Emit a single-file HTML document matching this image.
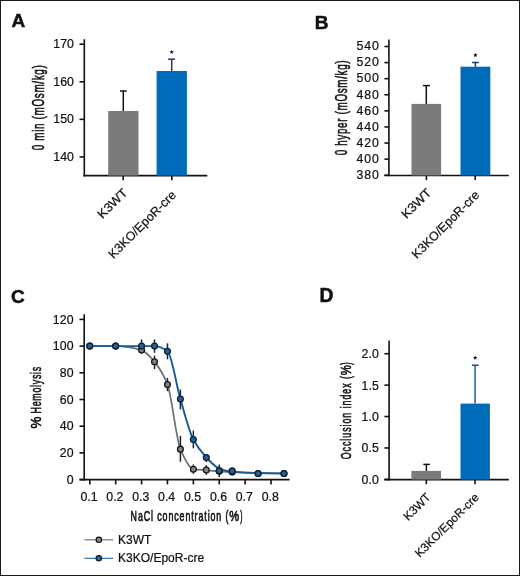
<!DOCTYPE html>
<html><head><meta charset="utf-8"><style>
html,body{margin:0;padding:0;background:#fff;}
svg{display:block;font-family:"Liberation Sans", sans-serif;will-change:transform;}
</style></head><body>
<svg width="520" height="576" viewBox="0 0 520 576">
<rect x="0.5" y="0.5" width="519" height="575" fill="#fff" stroke="#1a1a1a" stroke-width="1"/>
<text x="11.60" y="27.00" font-size="19.0" stroke="#111" stroke-width="0.5" font-weight="bold" fill="#111">A</text>
<line x1="79.50" y1="44.20" x2="84.30" y2="44.20" stroke="#111" stroke-width="1.6" stroke-linecap="butt"/>
<text x="73.90" y="48.35" font-size="12.3" text-anchor="end" stroke="#111" stroke-width="0.22" textLength="20.62" lengthAdjust="spacing" fill="#111">170</text>
<line x1="79.50" y1="81.77" x2="84.30" y2="81.77" stroke="#111" stroke-width="1.6" stroke-linecap="butt"/>
<text x="73.90" y="85.92" font-size="12.3" text-anchor="end" stroke="#111" stroke-width="0.22" textLength="20.62" lengthAdjust="spacing" fill="#111">160</text>
<line x1="79.50" y1="119.34" x2="84.30" y2="119.34" stroke="#111" stroke-width="1.6" stroke-linecap="butt"/>
<text x="73.90" y="123.49" font-size="12.3" text-anchor="end" stroke="#111" stroke-width="0.22" textLength="20.62" lengthAdjust="spacing" fill="#111">150</text>
<line x1="79.50" y1="156.91" x2="84.30" y2="156.91" stroke="#111" stroke-width="1.6" stroke-linecap="butt"/>
<text x="73.90" y="161.06" font-size="12.3" text-anchor="end" stroke="#111" stroke-width="0.22" textLength="20.62" lengthAdjust="spacing" fill="#111">140</text>
<line x1="84.30" y1="39.20" x2="84.30" y2="176.40" stroke="#111" stroke-width="1.6" stroke-linecap="butt"/>
<line x1="83.50" y1="175.60" x2="207.30" y2="175.60" stroke="#111" stroke-width="1.6" stroke-linecap="butt"/>
<line x1="123.20" y1="175.60" x2="123.20" y2="180.20" stroke="#111" stroke-width="1.6" stroke-linecap="butt"/>
<line x1="171.80" y1="175.60" x2="171.80" y2="180.20" stroke="#111" stroke-width="1.6" stroke-linecap="butt"/>
<rect x="108.20" y="111.00" width="30.30" height="64.60" fill="#7b7b7b"/>
<rect x="156.60" y="71.00" width="30.30" height="104.60" fill="#006cb9"/>
<line x1="123.30" y1="111.00" x2="123.30" y2="91.00" stroke="#111" stroke-width="1.5" stroke-linecap="butt"/>
<line x1="120.00" y1="91.00" x2="126.70" y2="91.00" stroke="#111" stroke-width="1.5" stroke-linecap="butt"/>
<line x1="171.70" y1="71.00" x2="171.70" y2="59.20" stroke="#1b3d63" stroke-width="1.5" stroke-linecap="butt"/>
<line x1="168.10" y1="59.20" x2="175.10" y2="59.20" stroke="#1b3d63" stroke-width="1.5" stroke-linecap="butt"/>
<polygon points="171.70,49.70 172.31,51.16 173.89,51.29 172.68,52.32 173.05,53.86 171.70,53.03 170.35,53.86 170.72,52.32 169.51,51.29 171.09,51.16" fill="#111"/>
<text x="0" y="0" font-size="16.0" letter-spacing="1.030" transform="translate(43.60,150.20) rotate(-90) scale(0.62,1)" fill="#111" stroke="#111" stroke-width="0.6">0 min (mOsm/kg)</text>
<text x="0.00" y="0.00" font-size="12.5" text-anchor="end" stroke="#111" stroke-width="0.22" textLength="36.50" lengthAdjust="spacingAndGlyphs" transform="translate(128.30,193.50) rotate(-45)" fill="#111">K3WT</text>
<text x="0.00" y="0.00" font-size="12.5" text-anchor="end" stroke="#111" stroke-width="0.22" transform="translate(176.80,195.80) rotate(-45)" fill="#111">K3KO/EpoR-cre</text>
<text x="314.80" y="29.30" font-size="19.0" stroke="#111" stroke-width="0.5" font-weight="bold" fill="#111">B</text>
<line x1="384.40" y1="46.50" x2="388.90" y2="46.50" stroke="#111" stroke-width="1.6" stroke-linecap="butt"/>
<text x="378.80" y="50.30" font-size="12.3" text-anchor="end" stroke="#111" stroke-width="0.22" textLength="22.42" lengthAdjust="spacing" fill="#111">540</text>
<line x1="384.40" y1="62.59" x2="388.90" y2="62.59" stroke="#111" stroke-width="1.6" stroke-linecap="butt"/>
<text x="378.80" y="66.39" font-size="12.3" text-anchor="end" stroke="#111" stroke-width="0.22" textLength="22.42" lengthAdjust="spacing" fill="#111">520</text>
<line x1="384.40" y1="78.68" x2="388.90" y2="78.68" stroke="#111" stroke-width="1.6" stroke-linecap="butt"/>
<text x="378.80" y="82.48" font-size="12.3" text-anchor="end" stroke="#111" stroke-width="0.22" textLength="22.42" lengthAdjust="spacing" fill="#111">500</text>
<line x1="384.40" y1="94.77" x2="388.90" y2="94.77" stroke="#111" stroke-width="1.6" stroke-linecap="butt"/>
<text x="378.80" y="98.57" font-size="12.3" text-anchor="end" stroke="#111" stroke-width="0.22" textLength="22.42" lengthAdjust="spacing" fill="#111">480</text>
<line x1="384.40" y1="110.86" x2="388.90" y2="110.86" stroke="#111" stroke-width="1.6" stroke-linecap="butt"/>
<text x="378.80" y="114.66" font-size="12.3" text-anchor="end" stroke="#111" stroke-width="0.22" textLength="22.42" lengthAdjust="spacing" fill="#111">460</text>
<line x1="384.40" y1="126.95" x2="388.90" y2="126.95" stroke="#111" stroke-width="1.6" stroke-linecap="butt"/>
<text x="378.80" y="130.75" font-size="12.3" text-anchor="end" stroke="#111" stroke-width="0.22" textLength="22.42" lengthAdjust="spacing" fill="#111">440</text>
<line x1="384.40" y1="143.04" x2="388.90" y2="143.04" stroke="#111" stroke-width="1.6" stroke-linecap="butt"/>
<text x="378.80" y="146.84" font-size="12.3" text-anchor="end" stroke="#111" stroke-width="0.22" textLength="22.42" lengthAdjust="spacing" fill="#111">420</text>
<line x1="384.40" y1="159.13" x2="388.90" y2="159.13" stroke="#111" stroke-width="1.6" stroke-linecap="butt"/>
<text x="378.80" y="162.93" font-size="12.3" text-anchor="end" stroke="#111" stroke-width="0.22" textLength="22.42" lengthAdjust="spacing" fill="#111">400</text>
<line x1="384.40" y1="175.22" x2="388.90" y2="175.22" stroke="#111" stroke-width="1.6" stroke-linecap="butt"/>
<text x="378.80" y="179.02" font-size="12.3" text-anchor="end" stroke="#111" stroke-width="0.22" textLength="22.42" lengthAdjust="spacing" fill="#111">380</text>
<line x1="388.90" y1="39.40" x2="388.90" y2="176.30" stroke="#111" stroke-width="1.6" stroke-linecap="butt"/>
<line x1="384.40" y1="175.50" x2="508.80" y2="175.50" stroke="#111" stroke-width="1.6" stroke-linecap="butt"/>
<line x1="426.40" y1="175.50" x2="426.40" y2="180.10" stroke="#111" stroke-width="1.6" stroke-linecap="butt"/>
<line x1="475.20" y1="175.50" x2="475.20" y2="180.10" stroke="#111" stroke-width="1.6" stroke-linecap="butt"/>
<rect x="411.50" y="103.90" width="29.60" height="71.60" fill="#7b7b7b"/>
<rect x="460.50" y="66.70" width="29.80" height="108.80" fill="#006cb9"/>
<line x1="426.30" y1="103.90" x2="426.30" y2="85.60" stroke="#111" stroke-width="1.5" stroke-linecap="butt"/>
<line x1="422.90" y1="85.60" x2="429.90" y2="85.60" stroke="#111" stroke-width="1.5" stroke-linecap="butt"/>
<line x1="475.40" y1="66.70" x2="475.40" y2="62.50" stroke="#1b3d63" stroke-width="1.5" stroke-linecap="butt"/>
<line x1="472.10" y1="62.50" x2="478.80" y2="62.50" stroke="#1b3d63" stroke-width="1.5" stroke-linecap="butt"/>
<polygon points="475.40,52.90 476.01,54.36 477.59,54.49 476.38,55.52 476.75,57.06 475.40,56.23 474.05,57.06 474.42,55.52 473.21,54.49 474.79,54.36" fill="#111"/>
<text x="0" y="0" font-size="16.0" letter-spacing="1.019" transform="translate(346.70,155.30) rotate(-90) scale(0.62,1)" fill="#111" stroke="#111" stroke-width="0.6">0 hyper (mOsm/kg)</text>
<text x="0.00" y="0.00" font-size="12.5" text-anchor="end" stroke="#111" stroke-width="0.22" textLength="36.50" lengthAdjust="spacingAndGlyphs" transform="translate(432.20,193.50) rotate(-45)" fill="#111">K3WT</text>
<text x="0.00" y="0.00" font-size="12.5" text-anchor="end" stroke="#111" stroke-width="0.22" transform="translate(480.20,195.80) rotate(-45)" fill="#111">K3KO/EpoR-cre</text>
<text x="10.90" y="302.80" font-size="19.0" stroke="#111" stroke-width="0.5" font-weight="bold" fill="#111">C</text>
<line x1="79.50" y1="319.40" x2="84.20" y2="319.40" stroke="#111" stroke-width="1.6" stroke-linecap="butt"/>
<text x="73.65" y="323.55" font-size="12.3" text-anchor="end" stroke="#111" stroke-width="0.22" textLength="20.82" lengthAdjust="spacing" fill="#111">120</text>
<line x1="79.50" y1="346.10" x2="84.20" y2="346.10" stroke="#111" stroke-width="1.6" stroke-linecap="butt"/>
<text x="73.65" y="350.25" font-size="12.3" text-anchor="end" stroke="#111" stroke-width="0.22" textLength="20.82" lengthAdjust="spacing" fill="#111">100</text>
<line x1="79.50" y1="372.80" x2="84.20" y2="372.80" stroke="#111" stroke-width="1.6" stroke-linecap="butt"/>
<text x="73.65" y="376.95" font-size="12.3" text-anchor="end" stroke="#111" stroke-width="0.22" textLength="13.83" lengthAdjust="spacing" fill="#111">80</text>
<line x1="79.50" y1="399.50" x2="84.20" y2="399.50" stroke="#111" stroke-width="1.6" stroke-linecap="butt"/>
<text x="73.65" y="403.65" font-size="12.3" text-anchor="end" stroke="#111" stroke-width="0.22" textLength="13.83" lengthAdjust="spacing" fill="#111">60</text>
<line x1="79.50" y1="426.20" x2="84.20" y2="426.20" stroke="#111" stroke-width="1.6" stroke-linecap="butt"/>
<text x="73.65" y="430.35" font-size="12.3" text-anchor="end" stroke="#111" stroke-width="0.22" textLength="13.83" lengthAdjust="spacing" fill="#111">40</text>
<line x1="79.50" y1="452.90" x2="84.20" y2="452.90" stroke="#111" stroke-width="1.6" stroke-linecap="butt"/>
<text x="73.65" y="457.05" font-size="12.3" text-anchor="end" stroke="#111" stroke-width="0.22" textLength="13.83" lengthAdjust="spacing" fill="#111">20</text>
<line x1="79.50" y1="479.60" x2="84.20" y2="479.60" stroke="#111" stroke-width="1.6" stroke-linecap="butt"/>
<text x="73.65" y="483.75" font-size="12.3" text-anchor="end" stroke="#111" stroke-width="0.22" textLength="6.84" lengthAdjust="spacing" fill="#111">0</text>
<line x1="84.20" y1="314.20" x2="84.20" y2="480.40" stroke="#111" stroke-width="1.6" stroke-linecap="butt"/>
<line x1="79.50" y1="479.60" x2="289.60" y2="479.60" stroke="#111" stroke-width="1.6" stroke-linecap="butt"/>
<line x1="89.80" y1="479.60" x2="89.80" y2="484.40" stroke="#111" stroke-width="1.6" stroke-linecap="butt"/>
<text x="89.00" y="500.60" font-size="12.3" text-anchor="middle" stroke="#111" stroke-width="0.22" fill="#111">0.1</text>
<line x1="115.69" y1="479.60" x2="115.69" y2="484.40" stroke="#111" stroke-width="1.6" stroke-linecap="butt"/>
<text x="114.89" y="500.60" font-size="12.3" text-anchor="middle" stroke="#111" stroke-width="0.22" fill="#111">0.2</text>
<line x1="141.58" y1="479.60" x2="141.58" y2="484.40" stroke="#111" stroke-width="1.6" stroke-linecap="butt"/>
<text x="140.78" y="500.60" font-size="12.3" text-anchor="middle" stroke="#111" stroke-width="0.22" fill="#111">0.3</text>
<line x1="167.47" y1="479.60" x2="167.47" y2="484.40" stroke="#111" stroke-width="1.6" stroke-linecap="butt"/>
<text x="166.67" y="500.60" font-size="12.3" text-anchor="middle" stroke="#111" stroke-width="0.22" fill="#111">0.4</text>
<line x1="193.36" y1="479.60" x2="193.36" y2="484.40" stroke="#111" stroke-width="1.6" stroke-linecap="butt"/>
<text x="192.56" y="500.60" font-size="12.3" text-anchor="middle" stroke="#111" stroke-width="0.22" fill="#111">0.5</text>
<line x1="219.25" y1="479.60" x2="219.25" y2="484.40" stroke="#111" stroke-width="1.6" stroke-linecap="butt"/>
<text x="218.45" y="500.60" font-size="12.3" text-anchor="middle" stroke="#111" stroke-width="0.22" fill="#111">0.6</text>
<line x1="245.14" y1="479.60" x2="245.14" y2="484.40" stroke="#111" stroke-width="1.6" stroke-linecap="butt"/>
<text x="244.34" y="500.60" font-size="12.3" text-anchor="middle" stroke="#111" stroke-width="0.22" fill="#111">0.7</text>
<line x1="271.03" y1="479.60" x2="271.03" y2="484.40" stroke="#111" stroke-width="1.6" stroke-linecap="butt"/>
<text x="270.23" y="500.60" font-size="12.3" text-anchor="middle" stroke="#111" stroke-width="0.22" fill="#111">0.8</text>
<text x="0" y="0" font-size="13.8" letter-spacing="1.433" transform="translate(130.60,521.40) scale(0.6400,1)" fill="#111" stroke="#111" stroke-width="0.65">NaCl concentration (</text>
<text x="0" y="0" font-size="13.8" letter-spacing="0.000" transform="translate(229.23,521.40) scale(0.8017,1)" fill="#111" stroke="#111" stroke-width="0.65">%</text>
<text x="0" y="0" font-size="13.8" letter-spacing="0.000" transform="translate(240.29,521.40) scale(0.4785,1)" fill="#111" stroke="#111" stroke-width="0.65">)</text>
<text x="0" y="0" font-size="14.3" letter-spacing="0.000" transform="translate(41.20,428.50) rotate(-90) scale(0.9437720751114769,1)" fill="#111" stroke="#111" stroke-width="0.6">%</text>
<text x="0" y="0" font-size="14.3" letter-spacing="1.151" transform="translate(41.20,413.40) rotate(-90) scale(0.62,1)" fill="#111" stroke="#111" stroke-width="0.6">Hemolysis</text>
<path d="M89.80,346.10 C98.43,346.10 107.06,346.10 115.69,346.10 C124.32,346.10 132.95,347.63 141.58,350.11 C145.89,351.34 150.21,356.69 154.52,361.85 C158.84,367.01 163.16,373.35 167.47,384.55 C171.78,395.75 176.10,438.97 180.41,449.16 C184.73,459.35 189.04,468.51 193.36,469.19 C197.68,469.86 201.99,469.90 206.31,470.25 C210.62,470.61 214.94,471.02 219.25,471.32 C223.56,471.63 227.88,471.91 232.19,472.12 C240.82,472.56 249.45,473.05 258.08,473.19 C266.71,473.33 275.34,473.37 283.97,473.46" fill="none" stroke="#6e6e6e" stroke-width="1.7"/>
<line x1="141.58" y1="346.77" x2="141.58" y2="353.44" stroke="#222" stroke-width="1.5" stroke-linecap="butt"/>
<line x1="154.52" y1="355.71" x2="154.52" y2="369.06" stroke="#222" stroke-width="1.5" stroke-linecap="butt"/>
<line x1="167.47" y1="377.87" x2="167.47" y2="391.22" stroke="#222" stroke-width="1.5" stroke-linecap="butt"/>
<line x1="180.41" y1="435.81" x2="180.41" y2="461.71" stroke="#222" stroke-width="1.5" stroke-linecap="butt"/>
<line x1="193.36" y1="464.51" x2="193.36" y2="473.73" stroke="#222" stroke-width="1.5" stroke-linecap="butt"/>
<line x1="206.31" y1="465.18" x2="206.31" y2="474.79" stroke="#222" stroke-width="1.5" stroke-linecap="butt"/>
<circle cx="89.80" cy="346.10" r="2.9" fill="#858585" stroke="#151515" stroke-width="1.3"/>
<circle cx="115.69" cy="346.10" r="2.9" fill="#858585" stroke="#151515" stroke-width="1.3"/>
<circle cx="141.58" cy="350.11" r="2.9" fill="#858585" stroke="#151515" stroke-width="1.3"/>
<circle cx="154.52" cy="361.85" r="2.9" fill="#858585" stroke="#151515" stroke-width="1.3"/>
<circle cx="167.47" cy="384.55" r="2.9" fill="#858585" stroke="#151515" stroke-width="1.3"/>
<circle cx="180.41" cy="449.16" r="2.9" fill="#858585" stroke="#151515" stroke-width="1.3"/>
<circle cx="193.36" cy="469.19" r="2.9" fill="#858585" stroke="#151515" stroke-width="1.3"/>
<circle cx="206.31" cy="469.99" r="2.9" fill="#858585" stroke="#151515" stroke-width="1.3"/>
<circle cx="219.25" cy="471.32" r="2.9" fill="#858585" stroke="#151515" stroke-width="1.3"/>
<circle cx="232.19" cy="472.12" r="2.9" fill="#858585" stroke="#151515" stroke-width="1.3"/>
<circle cx="258.08" cy="473.46" r="2.9" fill="#858585" stroke="#151515" stroke-width="1.3"/>
<circle cx="283.97" cy="473.46" r="2.9" fill="#858585" stroke="#151515" stroke-width="1.3"/>
<path d="M89.80,346.10 C98.43,346.10 107.06,346.10 115.69,346.10 C124.32,346.10 132.95,346.10 141.58,346.10 C145.89,346.10 150.21,346.10 154.52,346.10 C158.84,346.10 163.16,348.18 167.47,351.31 C171.78,354.44 176.10,384.49 180.41,399.10 C184.73,413.70 189.04,431.28 193.36,439.55 C197.68,447.82 201.99,452.88 206.31,457.44 C210.62,462.00 214.94,466.92 219.25,468.52 C223.56,470.12 227.88,471.17 232.19,471.59 C240.82,472.44 249.45,472.85 258.08,473.06 C266.71,473.27 275.34,473.33 283.97,473.46" fill="none" stroke="#1a5a92" stroke-width="1.9"/>
<line x1="141.58" y1="339.43" x2="141.58" y2="346.10" stroke="#15263a" stroke-width="1.5" stroke-linecap="butt"/>
<line x1="154.52" y1="339.43" x2="154.52" y2="352.78" stroke="#15263a" stroke-width="1.5" stroke-linecap="butt"/>
<line x1="167.47" y1="343.30" x2="167.47" y2="359.32" stroke="#15263a" stroke-width="1.5" stroke-linecap="butt"/>
<line x1="180.41" y1="389.49" x2="180.41" y2="409.38" stroke="#15263a" stroke-width="1.5" stroke-linecap="butt"/>
<line x1="193.36" y1="430.61" x2="193.36" y2="448.36" stroke="#15263a" stroke-width="1.5" stroke-linecap="butt"/>
<line x1="206.31" y1="453.97" x2="206.31" y2="461.98" stroke="#15263a" stroke-width="1.5" stroke-linecap="butt"/>
<line x1="219.25" y1="464.38" x2="219.25" y2="476.93" stroke="#15263a" stroke-width="1.5" stroke-linecap="butt"/>
<circle cx="89.80" cy="346.10" r="2.9" fill="#28618f" stroke="#0b1f36" stroke-width="1.3"/>
<circle cx="115.69" cy="346.10" r="2.9" fill="#28618f" stroke="#0b1f36" stroke-width="1.3"/>
<circle cx="141.58" cy="346.10" r="2.9" fill="#28618f" stroke="#0b1f36" stroke-width="1.3"/>
<circle cx="154.52" cy="346.10" r="2.9" fill="#28618f" stroke="#0b1f36" stroke-width="1.3"/>
<circle cx="167.47" cy="351.31" r="2.9" fill="#28618f" stroke="#0b1f36" stroke-width="1.3"/>
<circle cx="180.41" cy="399.10" r="2.9" fill="#28618f" stroke="#0b1f36" stroke-width="1.3"/>
<circle cx="193.36" cy="439.55" r="2.9" fill="#28618f" stroke="#0b1f36" stroke-width="1.3"/>
<circle cx="206.31" cy="457.44" r="2.9" fill="#28618f" stroke="#0b1f36" stroke-width="1.3"/>
<circle cx="219.25" cy="470.66" r="2.9" fill="#28618f" stroke="#0b1f36" stroke-width="1.3"/>
<circle cx="232.19" cy="470.92" r="2.9" fill="#28618f" stroke="#0b1f36" stroke-width="1.3"/>
<circle cx="258.08" cy="473.46" r="2.9" fill="#28618f" stroke="#0b1f36" stroke-width="1.3"/>
<circle cx="283.97" cy="473.46" r="2.9" fill="#28618f" stroke="#0b1f36" stroke-width="1.3"/>
<line x1="84.30" y1="539.80" x2="113.20" y2="539.80" stroke="#6a6a6a" stroke-width="1.1" stroke-linecap="butt"/>
<circle cx="98.8" cy="539.8" r="2.7" fill="#8a8a8a" stroke="#111" stroke-width="1.2"/>
<text x="118.10" y="543.60" font-size="12.0" stroke="#111" stroke-width="0.22" fill="#111">K3WT</text>
<line x1="84.30" y1="558.30" x2="113.20" y2="558.30" stroke="#2a66a0" stroke-width="1.1" stroke-linecap="butt"/>
<circle cx="98.8" cy="558.3" r="2.7" fill="#2a659b" stroke="#0b1f36" stroke-width="1.2"/>
<text x="118.10" y="561.80" font-size="12.0" stroke="#111" stroke-width="0.22" fill="#111">K3KO/EpoR-cre</text>
<text x="319.40" y="302.00" font-size="19.3" stroke="#111" stroke-width="0.5" font-weight="bold" fill="#111">D</text>
<line x1="384.40" y1="353.70" x2="389.10" y2="353.70" stroke="#111" stroke-width="1.6" stroke-linecap="butt"/>
<text x="378.80" y="358.20" font-size="12.3" text-anchor="end" stroke="#111" stroke-width="0.22" textLength="17.40" lengthAdjust="spacing" fill="#111">2.0</text>
<line x1="384.40" y1="385.12" x2="389.10" y2="385.12" stroke="#111" stroke-width="1.6" stroke-linecap="butt"/>
<text x="378.80" y="389.62" font-size="12.3" text-anchor="end" stroke="#111" stroke-width="0.22" textLength="17.40" lengthAdjust="spacing" fill="#111">1.5</text>
<line x1="384.40" y1="416.55" x2="389.10" y2="416.55" stroke="#111" stroke-width="1.6" stroke-linecap="butt"/>
<text x="378.80" y="421.05" font-size="12.3" text-anchor="end" stroke="#111" stroke-width="0.22" textLength="17.40" lengthAdjust="spacing" fill="#111">1.0</text>
<line x1="384.40" y1="447.97" x2="389.10" y2="447.97" stroke="#111" stroke-width="1.6" stroke-linecap="butt"/>
<text x="378.80" y="452.47" font-size="12.3" text-anchor="end" stroke="#111" stroke-width="0.22" textLength="17.40" lengthAdjust="spacing" fill="#111">0.5</text>
<line x1="384.40" y1="479.40" x2="389.10" y2="479.40" stroke="#111" stroke-width="1.6" stroke-linecap="butt"/>
<text x="378.80" y="483.90" font-size="12.3" text-anchor="end" stroke="#111" stroke-width="0.22" textLength="17.40" lengthAdjust="spacing" fill="#111">0.0</text>
<line x1="389.10" y1="340.40" x2="389.10" y2="480.40" stroke="#111" stroke-width="1.6" stroke-linecap="butt"/>
<line x1="384.20" y1="479.60" x2="508.80" y2="479.60" stroke="#111" stroke-width="1.6" stroke-linecap="butt"/>
<line x1="426.30" y1="479.60" x2="426.30" y2="484.20" stroke="#111" stroke-width="1.6" stroke-linecap="butt"/>
<line x1="475.00" y1="479.60" x2="475.00" y2="484.20" stroke="#111" stroke-width="1.6" stroke-linecap="butt"/>
<rect x="411.40" y="470.90" width="29.60" height="8.70" fill="#7b7b7b"/>
<rect x="460.50" y="403.60" width="29.40" height="76.00" fill="#006cb9"/>
<line x1="426.40" y1="470.90" x2="426.40" y2="464.40" stroke="#111" stroke-width="1.5" stroke-linecap="butt"/>
<line x1="423.30" y1="464.40" x2="429.90" y2="464.40" stroke="#111" stroke-width="1.5" stroke-linecap="butt"/>
<line x1="475.10" y1="403.60" x2="475.10" y2="365.20" stroke="#2a6aa3" stroke-width="1.6" stroke-linecap="butt"/>
<line x1="471.90" y1="365.20" x2="478.60" y2="365.20" stroke="#27507d" stroke-width="1.5" stroke-linecap="butt"/>
<polygon points="475.20,355.50 475.81,356.96 477.39,357.09 476.18,358.12 476.55,359.66 475.20,358.84 473.85,359.66 474.22,358.12 473.01,357.09 474.59,356.96" fill="#111"/>
<text x="0" y="0" font-size="14.3" letter-spacing="1.559" transform="translate(350.70,459.32) rotate(-90) scale(0.6200,1)" fill="#111" stroke="#111" stroke-width="0.6">Occlusion index (</text>
<text x="0" y="0" font-size="14.3" letter-spacing="0.000" transform="translate(350.70,375.31) rotate(-90) scale(0.7950,1)" fill="#111" stroke="#111" stroke-width="0.6">%</text>
<text x="0" y="0" font-size="14.3" letter-spacing="0.000" transform="translate(350.70,364.64) rotate(-90) scale(0.5014,1)" fill="#111" stroke="#111" stroke-width="0.6">)</text>
<text x="0.00" y="0.00" font-size="11.8" text-anchor="end" stroke="#111" stroke-width="0.22" transform="translate(431.40,498.00) rotate(-45)" fill="#111">K3WT</text>
<text x="0.00" y="0.00" font-size="11.8" text-anchor="end" stroke="#111" stroke-width="0.22" transform="translate(479.60,498.20) rotate(-45)" fill="#111">K3KO/EpoR-cre</text>
</svg>
</body></html>
